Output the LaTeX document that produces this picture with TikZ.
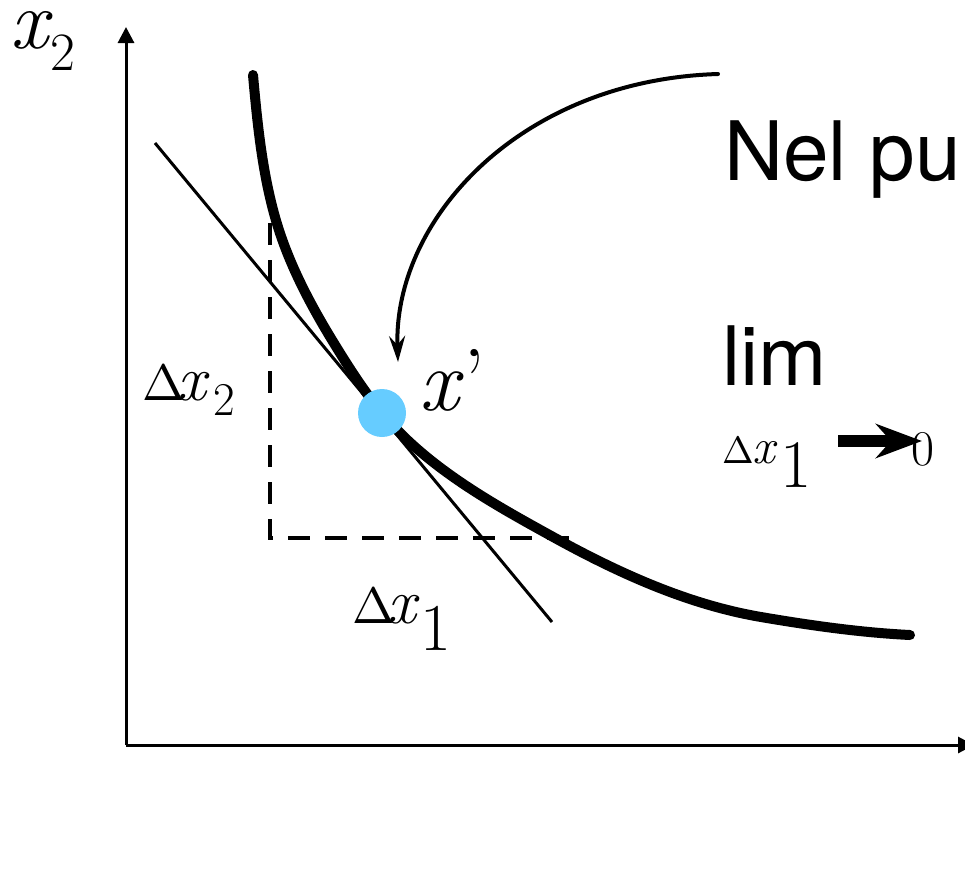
\documentclass[tikz,border=0pt]{standalone}
\usepackage{fontspec}
\newfontfamily\heros{TeX Gyre Heros}
\usetikzlibrary{arrows.meta}
\definecolor{dotblue}{RGB}{102,204,255}
\tikzset{
  txt/.style={anchor=base west, inner sep=0pt, outer sep=0pt},
  axis/.style={line width=3pt, -{Triangle[length=16pt,width=16pt]}},
  thickcurve/.style={line width=10pt, line cap=round},
  thinline/.style={line width=3pt},
  dashline/.style={line width=4pt, dash pattern=on 22pt off 15pt},
  bendarrow/.style={line width=4pt, line cap=round, -{Stealth[length=26pt,width=16pt,inset=9pt]}},
  fatarrow/.style={line width=12pt, -{Stealth[length=46pt,width=34pt,inset=15pt]}}
}
\newcommand{\fsz}[1]{\fontsize{#1}{#1}\selectfont}
\newcommand{\dlt}[1]{\scalebox{#1}{$\Delta$}}
\begin{document}
\begin{tikzpicture}[x=1pt,y=-1pt]
\useasboundingbox (0,0) rectangle (965,887);
% axes
\coordinate (O) at (126,745);
\coordinate (Ytip) at (126,27);
\coordinate (Xtip) at (974,745);
\draw[axis] (O) -- (Ytip);
\draw[axis] (O) -- (Xtip);
% dashed triangle
\coordinate (Dtop) at (270,223);
\coordinate (Dcorner) at (270,538);
\coordinate (Dright) at (573,538);
\draw[dashline] (Dtop) -- (Dcorner) -- (Dright);
% tangent line
\coordinate (T1) at (155,143);
\coordinate (T2) at (552,622);
\draw[thinline] (T1) -- (T2);
% indifference curve
\coordinate (C0) at (253,75);
\coordinate (C1) at (275,217);
\coordinate (C2) at (332,340);
\coordinate (C3) at (382,413);
\coordinate (C4) at (555,538);
\coordinate (C5) at (761,617);
\coordinate (C6) at (910,635);
\draw[thickcurve] (C0)
  .. controls (257.3,122.8) and (262,170.8) .. (C1)
  .. controls (287.2,260.5) and (308.5,301.4) .. (C2)
  .. controls (347.4,365.2) and (363.2,390.3) .. (C3)
  .. controls (427.4,467.8) and (492.7,503.7) .. (C4)
  .. controls (619.4,573.4) and (688.5,604.7) .. (C5)
  .. controls (810.3,625.4) and (860,632.5) .. (C6);
% point x'
\node[circle, fill=dotblue, minimum size=48pt, inner sep=0pt] (P) at (C3) {};
% curved arrow
\coordinate (A0) at (718,74);
\coordinate (A1) at (398,362);
\draw[bendarrow] (A0) .. controls (520,80) and (393,220) .. (A1);
% labels
\node[txt, text height=40pt] (x2) at (10,48) {\fsz{84}\itshape x};
\node[txt] (x2s) at (50,70) {\fsz{54}2};
\node[txt] (dx2) at (142,400) {\dlt{5.1}\hspace{-7.5pt}{\fsz{64}\itshape x}};
\node[txt] (dx2s) at (213,415) {\fsz{47}2};
\node[txt] (dx1) at (352,623) {\dlt{5.1}\hspace{-7.5pt}{\fsz{64}\itshape x}};
\node[txt] (dx1s) at (420,650) {\fsz{67}1};
\node[txt] (xp) at (419,410) {\fsz{88}\itshape x};
\node[txt] (xpp) at (463,410) {\fsz{88}’};
\node[txt, font=\heros] (nel) at (724,180) {\fsz{82}Nel pu};
\node[txt, font=\heros] (lim) at (722,385) {\fsz{82}lim};
\node[txt] (sdx) at (722,463) {\dlt{3.8}\hspace{-0.7pt}{\fsz{50}\itshape x}};
\node[txt] (sdxs) at (780,487) {\fsz{68}1};
\node[txt] (zero) at (911,465) {\fsz{50}0};
\coordinate (F0) at (838,441);
\coordinate (F1) at (922,441);
\draw[fatarrow] (F0) -- (F1);
\end{tikzpicture}
\end{document}
